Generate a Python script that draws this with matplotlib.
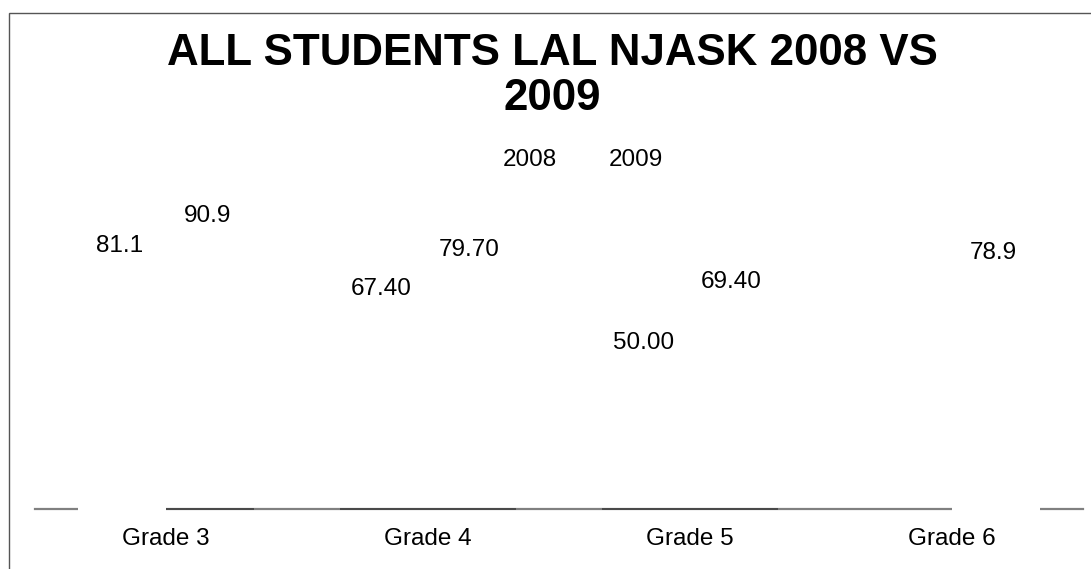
import numpy as np
import matplotlib
matplotlib.use("Agg")
import matplotlib.pyplot as plt
from matplotlib.patches import Rectangle

plt.rcParams['font.family'] = ['Liberation Sans', 'DejaVu Sans']

# chart data
grades = ["Grade 3", "Grade 4", "Grade 5", "Grade 6"]
years = ["2008", "2009"]
scores_2008 = [81.1, 67.4, 50.0, np.nan]
scores_2009 = [90.9, 79.7, 69.4, 78.9]
labels_2008 = ["81.1", "67.40", "50.00", ""]
labels_2009 = ["90.9", "79.70", "69.40", "78.9"]

fig = plt.figure(figsize=(10.91, 5.69), dpi=100)
ax = fig.add_axes([35 / 1091, 60 / 569, 1048 / 1091, 310.5 / 569])

# outer frame (only top and left edges show)
fig.patches.append(Rectangle((9 / 1091, -0.2), 1.2, 1.2 - 13 / 569,
                             transform=fig.transFigure, fill=False,
                             edgecolor='#555555', linewidth=1.0))

x = np.arange(len(grades))
w = 0.336
b1 = ax.bar(x - w / 2, scores_2008, w, facecolor='none', edgecolor='none', label=years[0])
b2 = ax.bar(x + w / 2, scores_2009, w, facecolor='none', edgecolor='none', label=years[1])

# bottom edges of the bars over the axis line; two of them come out white
blank = {(0, 0), (1, 3)}
for si, bars in enumerate([b1, b2]):
    for i, p in enumerate(bars.patches):
        if np.isnan(p.get_height()):
            continue
        col = 'white' if (si, i) in blank else '#404040'
        lw = 3 if (si, i) in blank else 1.2
        ax.hlines(0, p.get_x(), p.get_x() + p.get_width(), colors=col,
                  linewidth=lw, zorder=4, clip_on=False)

for bars, labs in [(b1, labels_2008), (b2, labels_2009)]:
    for p, lab in zip(bars.patches, labs):
        if not lab:
            continue
        ax.annotate(lab, (p.get_x() + p.get_width() / 2, p.get_height()),
                    xytext=(-2, 8), textcoords='offset points',
                    ha='center', va='center', fontsize=17.5, color='black')

ax.set_xlim(-0.5, len(grades) - 0.5)
ax.set_ylim(0, 100)
ax.set_yticks([])
ax.set_xticks(x)
ax.set_xticklabels(grades, fontsize=17.5)
ax.tick_params(axis='x', length=0, pad=13.5)
for s in ['left', 'right', 'top']:
    ax.spines[s].set_visible(False)
ax.spines['bottom'].set_color('#808080')
ax.spines['bottom'].set_linewidth(1.6)
ax.patch.set_alpha(0)

leg = ax.legend(handles=[b1, b2], labels=years, ncol=2, frameon=False,
                loc='center', bbox_to_anchor=(568.5 / 1091, 1 - 160 / 569),
                bbox_transform=fig.transFigure, fontsize=17.5,
                handlelength=0.8, handletextpad=0.4, columnspacing=0.95)

fig.text(552 / 1091, 1 - 76 / 569, "ALL STUDENTS LAL NJASK 2008 VS\n2009",
         ha='center', va='center', fontsize=31.6, fontweight='bold',
         linespacing=1.13)

fig.savefig("out.png", dpi=100)
